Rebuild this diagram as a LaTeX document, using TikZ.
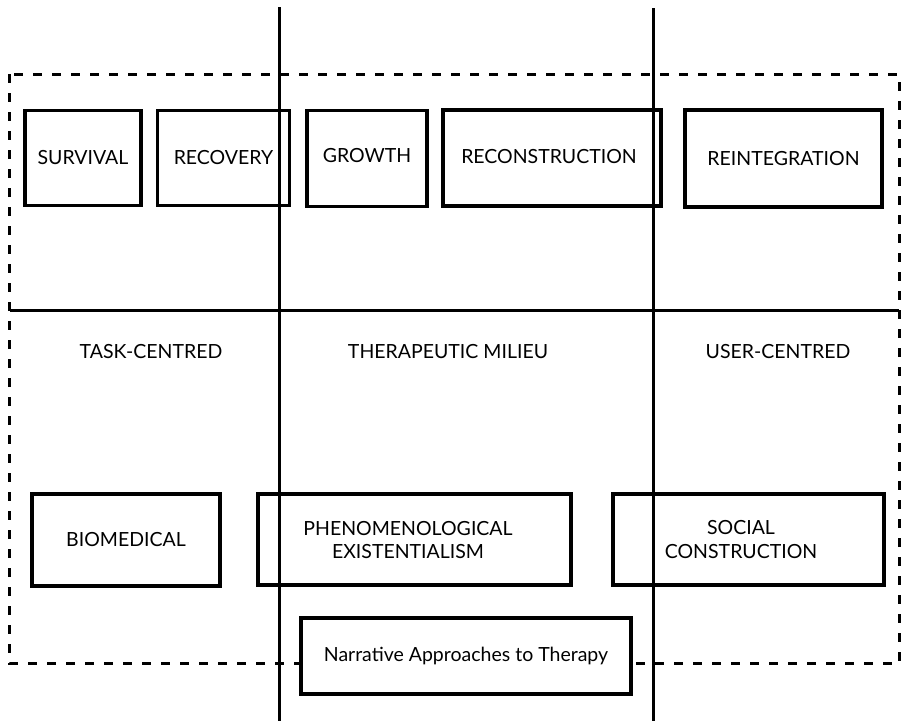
\documentclass[tikz,border=0pt]{standalone}
\usepackage{fontspec}
\setmainfont{Lato}
\begin{document}
\begin{tikzpicture}[x=1pt,y=-1pt,
  box/.style={draw,line width=3.4pt,inner sep=0pt},
  lbl/.style={font=\fontsize{19.5}{24}\selectfont,align=center,inner sep=0pt},
  divider/.style={line width=3pt},
  frame/.style={line width=3pt,dash pattern=on 9pt off 10pt}]
\useasboundingbox (0,0) rectangle (901,721);
% dashed frame
\draw[frame] (9.5,74) rectangle (899,663.5);
% top row boxes
\node[box,minimum width=116pt,minimum height=95pt,lbl] (surv) at (83,158) {SURVIVAL};
\node[box,minimum width=132pt,minimum height=95pt,lbl] (reco) at (223.5,158) {RECOVERY};
\node[box,minimum width=120pt,minimum height=96pt,lbl] (grow) at (367,158.5) {};
\node[lbl] (growt) at (367,156) {GROWTH};
\node[box,minimum width=218pt,minimum height=96pt,lbl] (recon) at (552,158) {};
\node[lbl] (recont) at (549,157) {RECONSTRUCTION};
\node[box,minimum width=197pt,minimum height=97pt,lbl] (reint) at (783.5,158.5) {REINTEGRATION};
% horizontal divider
\coordinate (hl) at (9.5,310);
\coordinate (hr) at (899,310);
\draw[divider] (hl) -- (hr);
% approach labels
\node[lbl] (task) at (151,352) {TASK-CENTRED};
\node[lbl] (ther) at (448,352) {THERAPEUTIC MILIEU};
\node[lbl] (user) at (778,352) {USER-CENTRED};
% bottom boxes
\node[box,minimum width=188pt,minimum height=92pt,lbl] (bio) at (126,540) {BIOMEDICAL};
\node[box,minimum width=313pt,minimum height=91pt] (phen) at (414.5,539.5) {};
\node[lbl] (phent) at (408,540) {PHENOMENOLOGICAL\\EXISTENTIALISM};
\node[box,minimum width=271pt,minimum height=91pt] (soc) at (748.5,539.5) {};
\node[lbl] (soct) at (741,540) {SOCIAL\\CONSTRUCTION};
\node[box,fill=white,minimum width=330pt,minimum height=76pt,font=\fontsize{19.5}{24}\selectfont] (narr) at (466,656) {Narrative Approaches to Therapy};
% vertical dividers
\coordinate (v1t) at (279,7);
\coordinate (v1b) at (279,721);
\coordinate (v2t) at (653,8);
\coordinate (v2b) at (653,721);
\draw[divider] (v1t) -- (v1b);
\draw[divider] (v2t) -- (v2b);
\end{tikzpicture}
\end{document}
